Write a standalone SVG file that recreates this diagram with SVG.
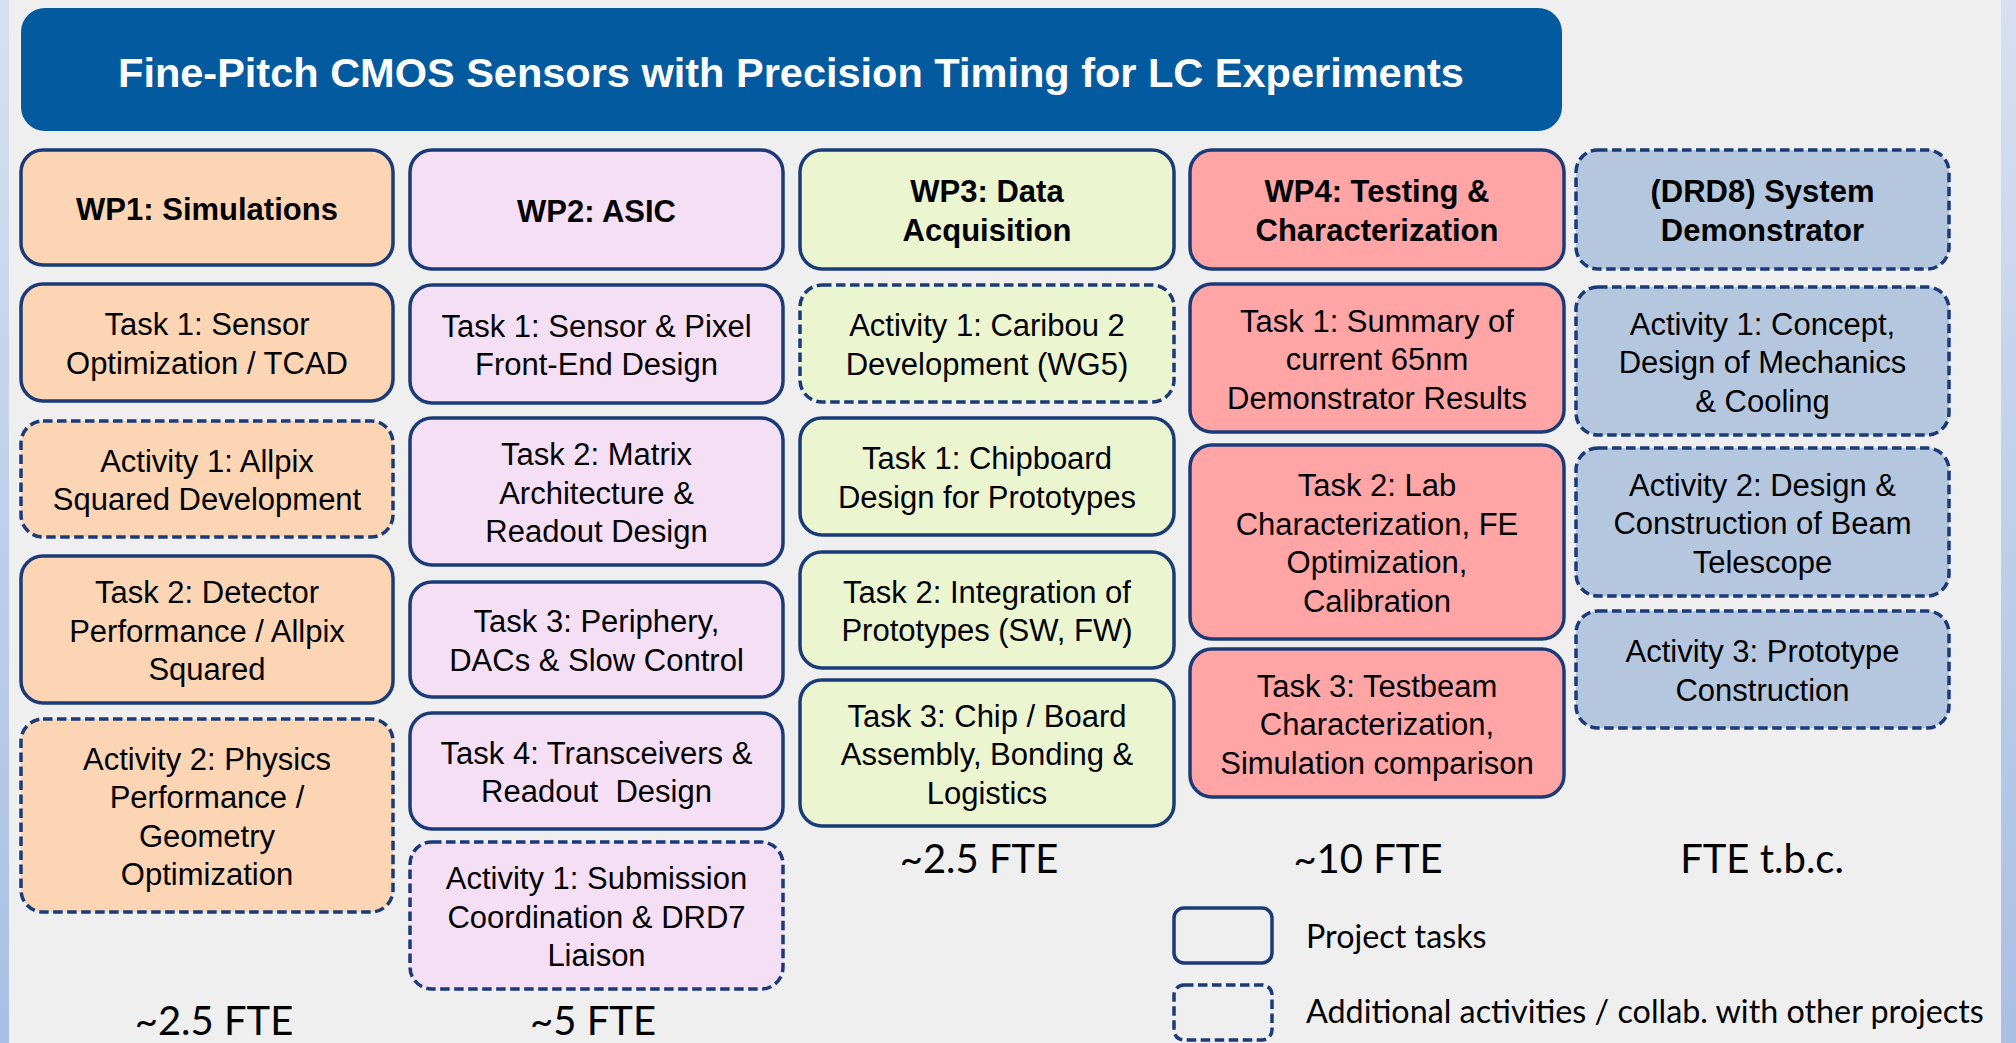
<svg xmlns="http://www.w3.org/2000/svg" width="2016" height="1043" viewBox="0 0 2016 1043">
<defs>
<linearGradient id="side" x1="0" y1="0" x2="0" y2="1">
<stop offset="0" stop-color="#d6e0f0"/>
<stop offset="1" stop-color="#a9bfe4"/>
</linearGradient>
<style>
.box{stroke:#1b3b78;stroke-width:3.5}
.dash{stroke-dasharray:9.5 4.5}
.c1{fill:#fcd5b5}.c2{fill:#f5dff5}.c3{fill:#ebf5d0}.c4{fill:#ffa5a5}.c5{fill:#b4c7de}
.t{font-family:"Liberation Sans",Arial,sans-serif;font-size:31px;fill:#000;text-anchor:middle}
.h{font-weight:bold}
.fte{font-family:Lato,"Open Sans",sans-serif;font-size:40px;fill:#000;text-anchor:middle}
.lg{font-family:Lato,"Open Sans",sans-serif;font-size:32.3px;fill:#000}
</style>
</defs>
<rect x="0" y="0" width="2016" height="1043" fill="#efefef"/>
<rect x="0" y="0" width="9" height="1043" fill="url(#side)"/>
<rect x="2001" y="0" width="15" height="1043" fill="url(#side)"/>

<g id="title">
<rect x="21" y="8" width="1541" height="123" rx="24" fill="#035a9f"/>
<text x="791" y="87" font-family="Liberation Sans, Arial, sans-serif" font-size="41.5" font-weight="bold" fill="#fff" text-anchor="middle">Fine-Pitch CMOS Sensors with Precision Timing for LC Experiments</text>
</g>

<!-- Column 1 -->
<g id="wp1">
<rect class="box c1" x="21" y="150" width="372" height="115" rx="22"/>
<text class="t h" x="207" y="219.5">WP1: Simulations</text>
</g>
<g id="wp1-task1">
<rect class="box c1" x="21" y="284" width="372" height="117" rx="22"/>
<text class="t" x="207"><tspan x="207" y="335.25">Task 1: Sensor</tspan><tspan x="207" y="373.75">Optimization / TCAD</tspan></text>
</g>
<g id="wp1-act1">
<rect class="box dash c1" x="21" y="421" width="372" height="116" rx="22"/>
<text class="t" x="207"><tspan x="207" y="471.75">Activity 1: Allpix</tspan><tspan x="207" y="510.25">Squared Development</tspan></text>
</g>
<g id="wp1-task2">
<rect class="box c1" x="21" y="556" width="372" height="147" rx="22"/>
<text class="t" x="207"><tspan x="207" y="603">Task 2: Detector</tspan><tspan x="207" y="641.5">Performance / Allpix</tspan><tspan x="207" y="680">Squared</tspan></text>
</g>
<g id="wp1-act2">
<rect class="box dash c1" x="21" y="719" width="372" height="193" rx="22"/>
<text class="t" x="207"><tspan x="207" y="769.75">Activity 2: Physics</tspan><tspan x="207" y="808.25">Performance /</tspan><tspan x="207" y="846.75">Geometry</tspan><tspan x="207" y="885.25">Optimization</tspan></text>
</g>

<!-- Column 2 -->
<g id="wp2">
<rect class="box c2" x="410" y="150" width="373" height="119" rx="22"/>
<text class="t h" x="596.5" y="221.5">WP2: ASIC</text>
</g>
<g id="wp2-task1">
<rect class="box c2" x="410" y="285" width="373" height="118" rx="22"/>
<text class="t" x="596.5"><tspan x="596.5" y="336.75">Task 1: Sensor &amp; Pixel</tspan><tspan x="596.5" y="375.25">Front-End Design</tspan></text>
</g>
<g id="wp2-task2">
<rect class="box c2" x="410" y="418" width="373" height="147" rx="22"/>
<text class="t" x="596.5"><tspan x="596.5" y="465">Task 2: Matrix</tspan><tspan x="596.5" y="503.5">Architecture &amp;</tspan><tspan x="596.5" y="542">Readout Design</tspan></text>
</g>
<g id="wp2-task3">
<rect class="box c2" x="410" y="582" width="373" height="115" rx="22"/>
<text class="t" x="596.5"><tspan x="596.5" y="632.25">Task 3: Periphery,</tspan><tspan x="596.5" y="670.75">DACs &amp; Slow Control</tspan></text>
</g>
<g id="wp2-task4">
<rect class="box c2" x="410" y="713" width="373" height="116" rx="22"/>
<text class="t" x="596.5"><tspan x="596.5" y="763.75">Task 4: Transceivers &amp;</tspan><tspan x="596.5" y="802.25">Readout&#160; Design</tspan></text>
</g>
<g id="wp2-act1">
<rect class="box dash c2" x="410" y="842" width="373" height="147" rx="22"/>
<text class="t" x="596.5"><tspan x="596.5" y="889">Activity 1: Submission</tspan><tspan x="596.5" y="927.5">Coordination &amp; DRD7</tspan><tspan x="596.5" y="966">Liaison</tspan></text>
</g>

<!-- Column 3 -->
<g id="wp3">
<rect class="box c3" x="800" y="150" width="374" height="119" rx="22"/>
<text class="t h" x="987"><tspan x="987" y="202.25">WP3: Data</tspan><tspan x="987" y="240.75">Acquisition</tspan></text>
</g>
<g id="wp3-act1">
<rect class="box dash c3" x="800" y="285" width="374" height="117" rx="22"/>
<text class="t" x="987"><tspan x="987" y="336.25">Activity 1: Caribou 2</tspan><tspan x="987" y="374.75">Development (WG5)</tspan></text>
</g>
<g id="wp3-task1">
<rect class="box c3" x="800" y="418" width="374" height="117" rx="22"/>
<text class="t" x="987"><tspan x="987" y="469.25">Task 1: Chipboard</tspan><tspan x="987" y="507.75">Design for Prototypes</tspan></text>
</g>
<g id="wp3-task2">
<rect class="box c3" x="800" y="552" width="374" height="116" rx="22"/>
<text class="t" x="987"><tspan x="987" y="602.75">Task 2: Integration of</tspan><tspan x="987" y="641.25">Prototypes (SW, FW)</tspan></text>
</g>
<g id="wp3-task3">
<rect class="box c3" x="800" y="680" width="374" height="146" rx="22"/>
<text class="t" x="987"><tspan x="987" y="726.5">Task 3: Chip / Board</tspan><tspan x="987" y="765">Assembly, Bonding &amp;</tspan><tspan x="987" y="803.5">Logistics</tspan></text>
</g>

<!-- Column 4 -->
<g id="wp4">
<rect class="box c4" x="1190" y="150" width="374" height="119" rx="22"/>
<text class="t h" x="1377"><tspan x="1377" y="202.25">WP4: Testing &amp;</tspan><tspan x="1377" y="240.75">Characterization</tspan></text>
</g>
<g id="wp4-task1">
<rect class="box c4" x="1190" y="284" width="374" height="148" rx="22"/>
<text class="t" x="1377"><tspan x="1377" y="331.5">Task 1: Summary of</tspan><tspan x="1377" y="370">current 65nm</tspan><tspan x="1377" y="408.5">Demonstrator Results</tspan></text>
</g>
<g id="wp4-task2">
<rect class="box c4" x="1190" y="445" width="374" height="194" rx="22"/>
<text class="t" x="1377"><tspan x="1377" y="496.25">Task 2: Lab</tspan><tspan x="1377" y="534.75">Characterization, FE</tspan><tspan x="1377" y="573.25">Optimization,</tspan><tspan x="1377" y="611.75">Calibration</tspan></text>
</g>
<g id="wp4-task3">
<rect class="box c4" x="1190" y="649" width="374" height="148" rx="22"/>
<text class="t" x="1377"><tspan x="1377" y="696.5">Task 3: Testbeam</tspan><tspan x="1377" y="735">Characterization,</tspan><tspan x="1377" y="773.5">Simulation comparison</tspan></text>
</g>

<!-- Column 5 -->
<g id="drd8">
<rect class="box dash c5" x="1576" y="150" width="373" height="119" rx="22"/>
<text class="t h" x="1762.5"><tspan x="1762.5" y="202.25">(DRD8) System</tspan><tspan x="1762.5" y="240.75">Demonstrator</tspan></text>
</g>
<g id="drd8-act1">
<rect class="box dash c5" x="1576" y="287" width="373" height="148" rx="22"/>
<text class="t" x="1762.5"><tspan x="1762.5" y="334.5">Activity 1: Concept,</tspan><tspan x="1762.5" y="373">Design of Mechanics</tspan><tspan x="1762.5" y="411.5">&amp; Cooling</tspan></text>
</g>
<g id="drd8-act2">
<rect class="box dash c5" x="1576" y="448" width="373" height="148" rx="22"/>
<text class="t" x="1762.5"><tspan x="1762.5" y="495.5">Activity 2: Design &amp;</tspan><tspan x="1762.5" y="534">Construction of Beam</tspan><tspan x="1762.5" y="572.5">Telescope</tspan></text>
</g>
<g id="drd8-act3">
<rect class="box dash c5" x="1576" y="611" width="373" height="117" rx="22"/>
<text class="t" x="1762.5"><tspan x="1762.5" y="662.25">Activity 3: Prototype</tspan><tspan x="1762.5" y="700.75">Construction</tspan></text>
</g>

<!-- FTE labels -->
<g id="fte">
<text class="fte" x="214" y="1035">~2.5 FTE</text>
<text class="fte" x="593" y="1035">~5 FTE</text>
<text class="fte" x="979" y="873">~2.5 FTE</text>
<text class="fte" x="1368" y="873">~10 FTE</text>
<text class="fte" x="1762" y="873">FTE t.b.c.</text>
</g>

<!-- Legend -->
<g id="legend">
<rect class="box" x="1174" y="908" width="98" height="55" rx="10" fill="none"/>
<text class="lg" x="1306" y="948">Project tasks</text>
<rect class="box dash" x="1174" y="985" width="98" height="55" rx="10" fill="none"/>
<text class="lg" x="1306" y="1023">Additional activities / collab. with other projects</text>
</g>

<g id="connectors"/>
</svg>
